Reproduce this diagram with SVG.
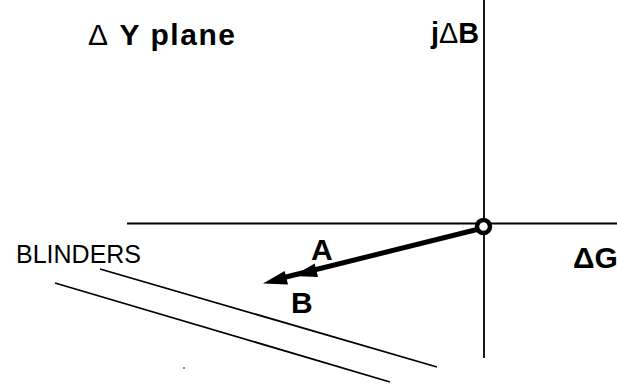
<svg xmlns="http://www.w3.org/2000/svg" width="617" height="384" viewBox="0 0 617 384">
<style>
.ax{stroke:#000;stroke-width:1.8;fill:none}
.bl{stroke:#000;stroke-width:1.8;fill:none}
.lbl{font-family:"Liberation Sans",Arial,sans-serif;font-weight:bold;font-size:30px;fill:#000}
.reg{font-family:"Liberation Sans",Arial,sans-serif;font-size:25px;fill:#000}
.thin{font-weight:normal}
</style>
<rect width="617" height="384" fill="#fff"/>
<g id="connectors">
<line class="ax" x1="127" y1="223.5" x2="617" y2="223.5"/>
<line class="ax" x1="484" y1="0" x2="484" y2="358"/>
<line class="bl" x1="100" y1="269" x2="437" y2="367"/>
<line class="bl" x1="55" y1="283" x2="390" y2="382"/>
<line x1="477" y1="229.5" x2="282" y2="278" stroke="#000" stroke-width="5"/>
<polygon points="263,283.5 288,284.5 284.6,270.9" fill="#000"/>
<polygon points="293,276 318,277 314.7,263.4" fill="#000"/>
</g>
<g id="origin">
<circle cx="483.5" cy="226.5" r="6.5" fill="#fff" stroke="#000" stroke-width="4.5"/>
</g>
<g id="title"><text class="lbl" x="88" y="45" textLength="147" lengthAdjust="spacing"><tspan class="thin">Δ</tspan> Y plane</text></g>
<g id="jdb"><text class="lbl" x="431" y="43" textLength="48" lengthAdjust="spacingAndGlyphs">j<tspan class="thin">Δ</tspan>B</text></g>
<g id="dg"><text class="lbl" x="573" y="268" font-size="27">ΔG</text></g>
<g id="blinders"><text class="reg" x="16" y="263">BLINDERS</text></g>
<g id="labelA"><text class="lbl" x="311" y="260">A</text></g>
<g id="labelB"><text class="lbl" x="291" y="313">B</text></g>
<circle cx="184" cy="368" r="0.8" fill="#000"/>
</svg>
